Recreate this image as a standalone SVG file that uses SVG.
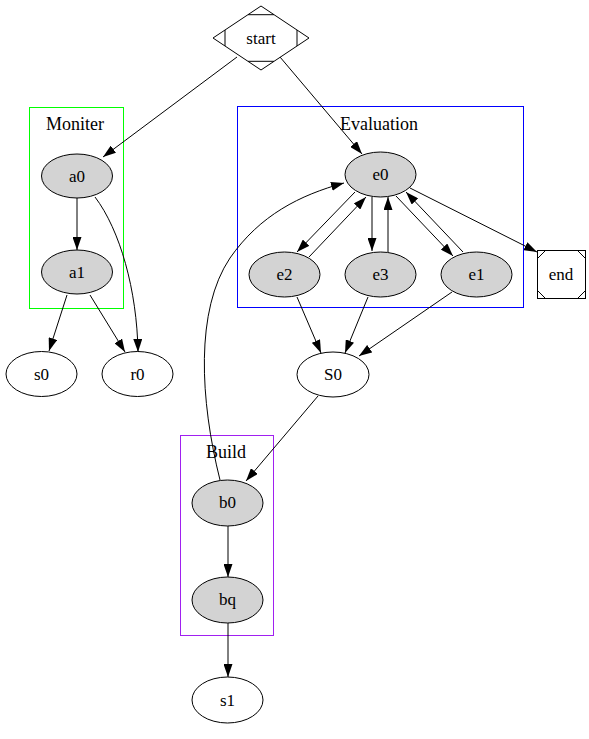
<svg xmlns="http://www.w3.org/2000/svg" width="589" height="739" viewBox="0 0 589 739">
<style>
text{font-family:"Liberation Serif","Times New Roman",serif;font-size:17px;text-anchor:middle;fill:#000}
.cl{font-size:18px}
.n{fill:#d3d3d3;stroke:#000;stroke-width:1}
.w{fill:#fff;stroke:#000;stroke-width:1}
.e{fill:none;stroke:#000;stroke-width:1}
.c{fill:none;stroke-width:1}
</style>
<defs>
<marker id="ah" viewBox="0 0 13 9" refX="13" refY="4.5" markerWidth="13" markerHeight="9" markerUnits="userSpaceOnUse" orient="auto">
<path d="M0,0 L13,4.5 L0,9 z" fill="#000"/>
</marker>
</defs>
<rect width="589" height="739" fill="#fff"/>
<g id="clusters">
<g id="cluster_moniter"><rect class="c" x="29.5" y="107.5" width="94" height="201" stroke="#00ff00"/><text class="cl" x="75" y="129.5">Moniter</text></g>
<g id="cluster_evaluation"><rect class="c" x="237.5" y="106.5" width="286" height="201" stroke="#0000ff"/><text class="cl" x="379" y="129.5">Evaluation</text></g>
<g id="cluster_build"><rect class="c" x="180.5" y="435.5" width="93" height="200" stroke="#a020f0"/><text class="cl" x="226" y="458">Build</text></g>
</g>
<g id="edges">
<path class="e" marker-end="url(#ah)" d="M237,57 L103,157"/>
<path class="e" marker-end="url(#ah)" d="M280,57 L362,154"/>
<path class="e" marker-end="url(#ah)" d="M77,198 L77,250"/>
<path class="e" marker-end="url(#ah)" d="M95,197 C120,230 137,290 138,352"/>
<path class="e" marker-end="url(#ah)" d="M67,295 L49,351"/>
<path class="e" marker-end="url(#ah)" d="M90,295 L125,352"/>
<path class="e" marker-end="url(#ah)" d="M355,192 L297,252"/>
<path class="e" marker-end="url(#ah)" d="M309,257 L366,197"/>
<path class="e" marker-end="url(#ah)" d="M372,197 L372,251"/>
<path class="e" marker-end="url(#ah)" d="M388,252 L388,197"/>
<path class="e" marker-end="url(#ah)" d="M396,196 L453,256"/>
<path class="e" marker-end="url(#ah)" d="M463,252 L406,192"/>
<path class="e" marker-end="url(#ah)" d="M410,188 L537,252"/>
<path class="e" marker-end="url(#ah)" d="M297,297 L321,353"/>
<path class="e" marker-end="url(#ah)" d="M368,297 L345,353"/>
<path class="e" marker-end="url(#ah)" d="M452,292 L359,356"/>
<path class="e" marker-end="url(#ah)" d="M318,396 L246,481"/>
<path class="e" marker-end="url(#ah)" d="M220,480 C200,400 195,310 230,258 C260,215 300,195 344,183"/>
<path class="e" marker-end="url(#ah)" d="M228,526 L228,577"/>
<path class="e" marker-end="url(#ah)" d="M228,623 L228,677"/>
</g>
<g id="start">
<polygon class="w" points="261,6 309,38 261,70 213,38"/>
<path class="e" d="M248,14.7 L274,14.7 M248,61.3 L274,61.3 M225,30 L225,46 M297,30 L297,46"/>
<text x="261" y="44">start</text>
</g>
<g id="end">
<rect class="w" x="537.5" y="250.5" width="48" height="48"/>
<path class="e" d="M537.5,258.5 L545.5,250.5 M577.5,250.5 L585.5,258.5 M537.5,290.5 L545.5,298.5 M577.5,298.5 L585.5,290.5"/>
<text x="561" y="280">end</text>
</g>
<g id="a0"><ellipse class="n" cx="77" cy="176" rx="35.5" ry="22"/><text x="77" y="181.5">a0</text></g>
<g id="a1"><ellipse class="n" cx="77" cy="272" rx="35.5" ry="22"/><text x="77" y="277.5">a1</text></g>
<g id="s0"><ellipse class="w" cx="41.5" cy="374" rx="35.5" ry="22.5"/><text x="41.5" y="379.5">s0</text></g>
<g id="r0"><ellipse class="w" cx="137.5" cy="374" rx="35.5" ry="22.5"/><text x="137.5" y="379.5">r0</text></g>
<g id="e0"><ellipse class="n" cx="380.5" cy="174.5" rx="35.5" ry="22.5"/><text x="380.5" y="180">e0</text></g>
<g id="e2"><ellipse class="n" cx="284.5" cy="274.5" rx="35.5" ry="22.5"/><text x="284.5" y="280">e2</text></g>
<g id="e3"><ellipse class="n" cx="380.5" cy="274.5" rx="35.5" ry="22.5"/><text x="380.5" y="280">e3</text></g>
<g id="e1"><ellipse class="n" cx="476.5" cy="274.5" rx="35.5" ry="22.5"/><text x="476.5" y="280">e1</text></g>
<g id="S0"><ellipse class="w" cx="333" cy="374.5" rx="36" ry="22.5"/><text x="333" y="380">S0</text></g>
<g id="b0"><ellipse class="n" cx="227.5" cy="503" rx="35.5" ry="23"/><text x="227.5" y="507.5">b0</text></g>
<g id="bq"><ellipse class="n" cx="227.5" cy="600" rx="35.5" ry="23"/><text x="227.5" y="605">bq</text></g>
<g id="s1"><ellipse class="w" cx="227.5" cy="700" rx="35.5" ry="23"/><text x="227.5" y="705.5">s1</text></g>
</svg>
